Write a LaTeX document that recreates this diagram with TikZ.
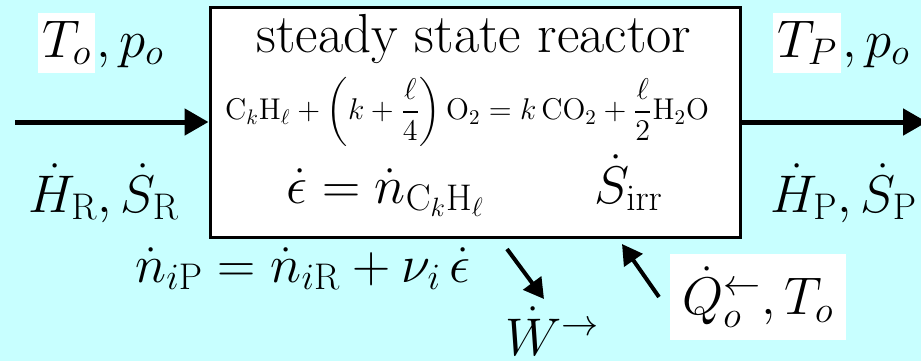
\RequirePackage{fix-cm}
\documentclass[tikz,border=0pt]{standalone}
\usepackage{amsmath}
\usepackage{tikz}
\usetikzlibrary{arrows.meta,positioning}
\definecolor{bgcyan}{RGB}{200,255,255}
\tikzset{
  reactorbox/.style={draw, line width=1.5pt, fill=white, minimum width=265pt,
    minimum height=115pt, inner sep=0pt},
  biglbl/.style={inner sep=0pt, font=\fontsize{26.5}{31}\selectfont},
  titlelbl/.style={inner sep=0pt, font=\fontsize{27.5}{33}\selectfont},
  eqlbl/.style={inner sep=0pt, font=\fontsize{15}{18}\selectfont},
  whitelbl/.style={biglbl, fill=white, inner xsep=2pt, inner ysep=4pt},
  flowarr/.style={-{Triangle[length=12pt, width=13pt]}, line width=2.5pt},
  energyarr/.style={-{Triangle[length=10pt, width=11pt]}, line width=2pt}
}
\begin{document}
\begin{tikzpicture}[x=0.5pt, y=-0.5pt]
  \fill[bgcyan] (0,0) rectangle (921,361);
  \useasboundingbox (0,0) rectangle (921,361);
  \node[reactorbox] (reactor) at (475,122) {};
  \node[titlelbl, anchor=base] (title) at (474,52) {steady state reactor};
  \node[eqlbl] (reaction) at (467,112) {$\mathrm{C}_k\mathrm{H}_\ell + \left(k+\dfrac{\ell}{4}\right)\mathrm{O}_2 = k\,\mathrm{CO}_2 + \dfrac{\ell}{2}\mathrm{H}_2\mathrm{O}$};
  \node[biglbl, anchor=base west] (rate) at (286,203) {$\dot\epsilon = \dot n_{\mathrm{C}_k\mathrm{H}_\ell}$};
  \node[biglbl, anchor=base west] (Sirr) at (594,203) {$\dot S_{\mathrm{irr}}$};
  \node[whitelbl, anchor=base west] (To) at (38,57) {$T_o$};
  \node[biglbl, anchor=base west] (poIn) at (To.base east) {$,p_o$};
  \node[whitelbl, anchor=base west] (TP) at (773,57) {$T_P$};
  \node[biglbl, anchor=base west] (poOut) at (TP.base east) {$,p_o$};
  \node[biglbl, anchor=base west] (HSin) at (28,212) {$\dot H_{\mathrm{R}},\dot S_{\mathrm{R}}$};
  \node[biglbl, anchor=base west] (HSout) at (770,212) {$\dot H_{\mathrm{P}},\dot S_{\mathrm{P}}$};
  \node[biglbl, anchor=base west] (balance) at (135,282) {$\dot n_{i\mathrm{P}} = \dot n_{i\mathrm{R}} + \nu_i\,\dot\epsilon$};
  \node[biglbl, anchor=base west] (work) at (505,355) {$\dot W^{\rightarrow}$};
  \node[whitelbl, inner sep=6pt] (heat) at (758,297) {$\dot Q_o^{\leftarrow},T_o$};
  \coordinate (inL) at (15,122);
  \coordinate (outR) at (927,122);
  \coordinate (wTail) at (507,249);
  \coordinate (wTip) at (544,299);
  \coordinate (qTail) at (659,297);
  \coordinate (qTip) at (622,244);
  \draw[flowarr] (inL) -- (reactor);
  \draw[flowarr] (reactor) -- (outR);
  \draw[energyarr] (wTail) -- (wTip);
  \draw[energyarr] (qTail) -- (qTip);
\end{tikzpicture}
\end{document}
